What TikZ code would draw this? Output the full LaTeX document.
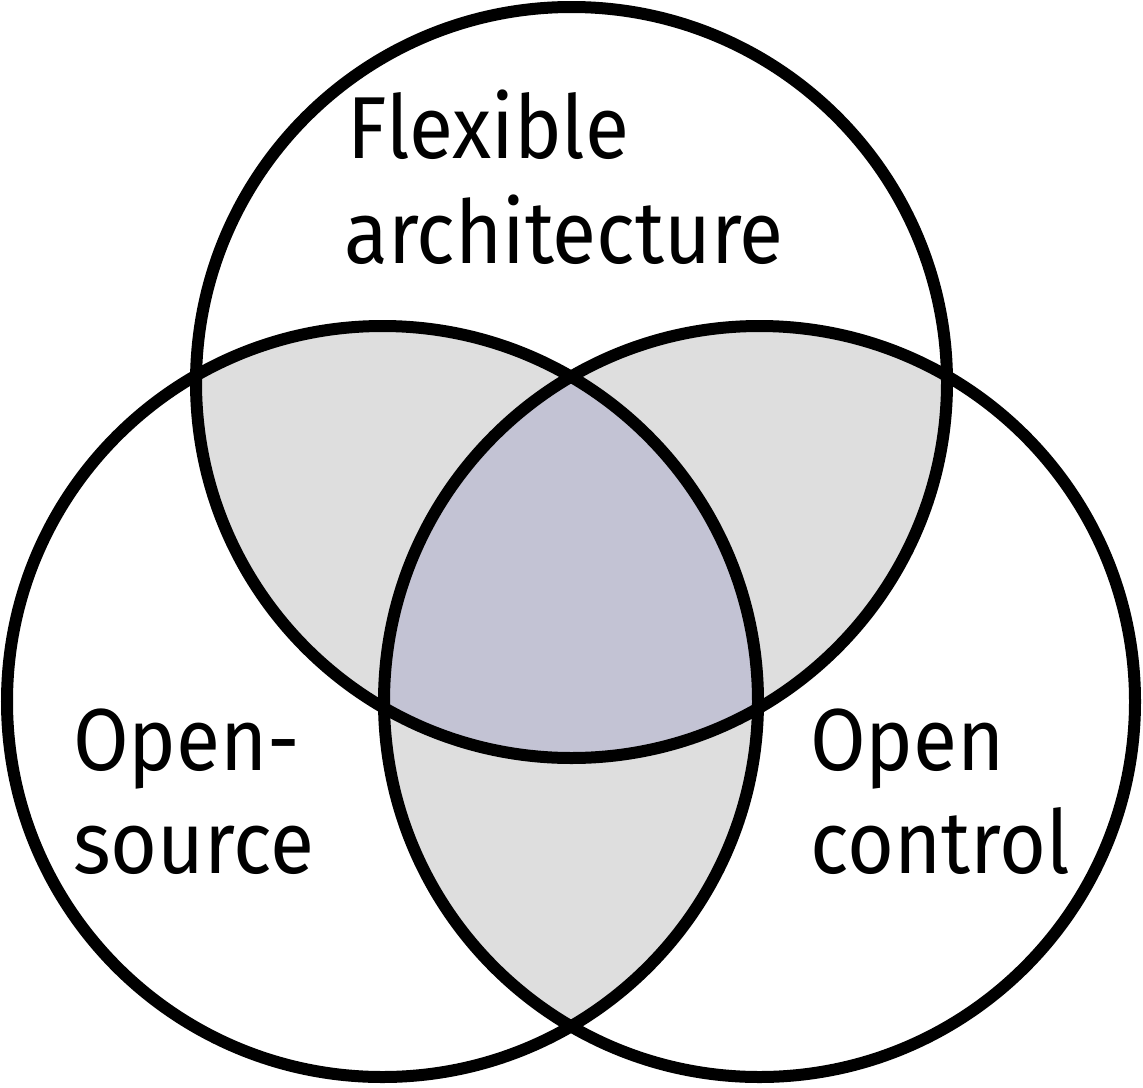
\documentclass[tikz,border=0pt]{standalone}
\usepackage{fontspec}
\setmainfont{Fira Sans}[FakeStretch=0.915]
\begin{document}
\begin{tikzpicture}[x=1pt,y=-1pt,
  ring/.style={draw=black,line width=12pt},
  lbl/.style={inner sep=0pt,anchor=base west,font=\fontsize{88}{105}\selectfont}]
\useasboundingbox (0,0) rectangle (1143,1087);
\def\rr{375.5}
\coordinate (ct) at (571.5,382.5);
\coordinate (cl) at (382.5,701.5);
\coordinate (cr) at (759.5,701.5);
% pairwise overlaps
\begin{scope}
  \clip (ct) circle[radius=\rr];
  \fill[fill={rgb,255:red,222;green,222;blue,222}] (cl) circle[radius=\rr];
  \fill[fill={rgb,255:red,222;green,222;blue,222}] (cr) circle[radius=\rr];
\end{scope}
\begin{scope}
  \clip (cl) circle[radius=\rr];
  \fill[fill={rgb,255:red,222;green,222;blue,222}] (cr) circle[radius=\rr];
\end{scope}
% triple overlap
\begin{scope}
  \clip (ct) circle[radius=\rr];
  \clip (cl) circle[radius=\rr];
  \fill[fill={rgb,255:red,195;green,195;blue,212}] (cr) circle[radius=\rr];
\end{scope}
\draw[ring] (ct) circle[radius=\rr];
\draw[ring] (cl) circle[radius=\rr];
\draw[ring] (cr) circle[radius=\rr];
\node[lbl] (fa1) at (347,158) {Flexible};
\node[lbl] (fa2) at (344,263) {architecture};
\node[lbl] (os1) at (73,770) {Open-};
\node[lbl] (os2) at (73,873) {source};
\node[lbl] (oc1) at (810,770) {Open};
\node[lbl] (oc2) at (810,873) {control};
\end{tikzpicture}
\end{document}
